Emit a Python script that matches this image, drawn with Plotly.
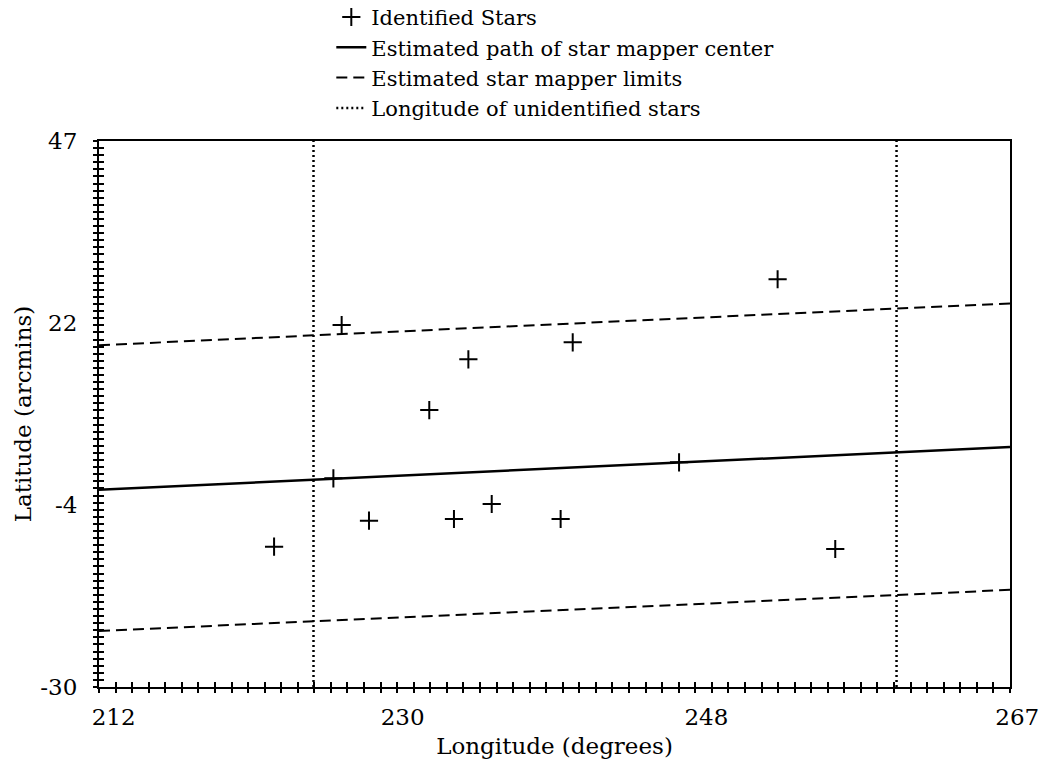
import plotly.graph_objects as go

# ---- data ----
star_lon = [226.65, 240.60, 234.30, 231.94, 226.15, 228.30, 233.43, 235.71, 239.87, 222.57, 252.97, 247.02, 256.45]
star_lat = [21.05, 18.61, 16.21, 9.06, -0.57, -6.55, -6.31, -4.19, -6.31, -10.21, 27.5, 1.69, -10.54]

path_lon = [212, 267]
path_lat = [-2.2, 3.85]

upper_lon = [212, 267]
upper_lat = [18.2, 24.1]
lower_lon = [212, 267]
lower_lat = [-22.1, -16.3]

unident_lon = [224.95, 260.15]
lat_range = [-30, 47]
lon_range = [212, 267]

x_tickvals = [212, 230.333, 248.667, 267]
x_ticktext = ["212", "230", "248", "267"]
y_tickvals = [-30, -4.333, 21.333, 47]
y_ticktext = ["-30", "-4", "22", "47"]

FONT = "DejaVu Serif, Liberation Serif, serif"
NB = "\u00a0"
x_ticktext_disp = [NB * 4 + x_ticktext[0], x_ticktext[1], x_ticktext[2], NB * 2 + x_ticktext[3]]

fig = go.Figure()

fig.add_trace(go.Scatter(x=star_lon, y=star_lat, mode="markers", name="Identified Stars",
                         marker=dict(symbol="cross-thin", size=13, line=dict(width=2, color="black"), color="black")))
fig.add_trace(go.Scatter(x=path_lon, y=path_lat, mode="lines", name="Estimated path of star mapper center",
                         line=dict(color="black", width=2.5)))
fig.add_trace(go.Scatter(x=upper_lon, y=upper_lat, mode="lines", name="Estimated star mapper limits",
                         line=dict(color="black", width=2, dash="11px,6px")))
fig.add_trace(go.Scatter(x=lower_lon, y=lower_lat, mode="lines", name="Estimated star mapper limits",
                         line=dict(color="black", width=2, dash="11px,6px"), showlegend=False))
for i, lon in enumerate(unident_lon):
    fig.add_trace(go.Scatter(x=[lon, lon], y=lat_range, mode="lines", name="Longitude of unidentified stars",
                             line=dict(color="black", width=2.5, dash="2px,3px"), showlegend=(i == 0)))

# dummy traces to instantiate tick overlay axes
fig.add_trace(go.Scatter(x=[None], y=[None], xaxis="x2", yaxis="y2", showlegend=False, hoverinfo="skip"))
fig.add_trace(go.Scatter(x=[None], y=[None], xaxis="x3", yaxis="y3", showlegend=False, hoverinfo="skip"))

common_tick = dict(tickmode="linear", dtick=1, ticklen=5, tickwidth=2, tickcolor="black",
                   showticklabels=False, showgrid=False, zeroline=False, showline=False)

fig.update_layout(
    width=1041, height=764,
    paper_bgcolor="white", plot_bgcolor="white",
    margin=dict(l=99, r=31, t=141, b=77, autoexpand=False),
    font=dict(family=FONT, color="black", size=21),
    showlegend=True,
    legend=dict(x=0.255, y=1.264, xanchor="left", yanchor="top", bgcolor="rgba(0,0,0,0)",
                font=dict(family=FONT, size=21), tracegroupgap=0, itemwidth=30),
    xaxis=dict(range=lon_range, tickvals=x_tickvals, ticktext=x_ticktext_disp, ticks="",
               showline=True, linewidth=2, linecolor="black", mirror=True,
               showgrid=False, zeroline=False, ticklabelstandoff=8, automargin=False,
               tickfont=dict(size=23),
               title=dict(text="Longitude (degrees)", font=dict(size=23), standoff=9)),
    yaxis=dict(range=lat_range, tickvals=y_tickvals, ticktext=y_ticktext, ticks="",
               showline=True, linewidth=2, linecolor="black", mirror=True,
               showgrid=False, zeroline=False, ticklabelstandoff=15, automargin=False,
               tickfont=dict(size=23),
               title=dict(text="Latitude (arcmins)", font=dict(size=23), standoff=2)),
    xaxis2=dict(range=lon_range, overlaying="x", anchor="y2", side="bottom", tick0=212, ticks="outside", **common_tick),
    yaxis2=dict(range=lat_range, overlaying="y", anchor="x2", side="left", tick0=-30, ticks="outside", **common_tick),
    xaxis3=dict(range=lon_range, overlaying="x", anchor="y3", side="bottom", tick0=212, ticks="inside", **common_tick),
    yaxis3=dict(range=lat_range, overlaying="y", anchor="x3", side="left", tick0=-30, ticks="inside", **common_tick),
)

fig.write_html("out.html")
